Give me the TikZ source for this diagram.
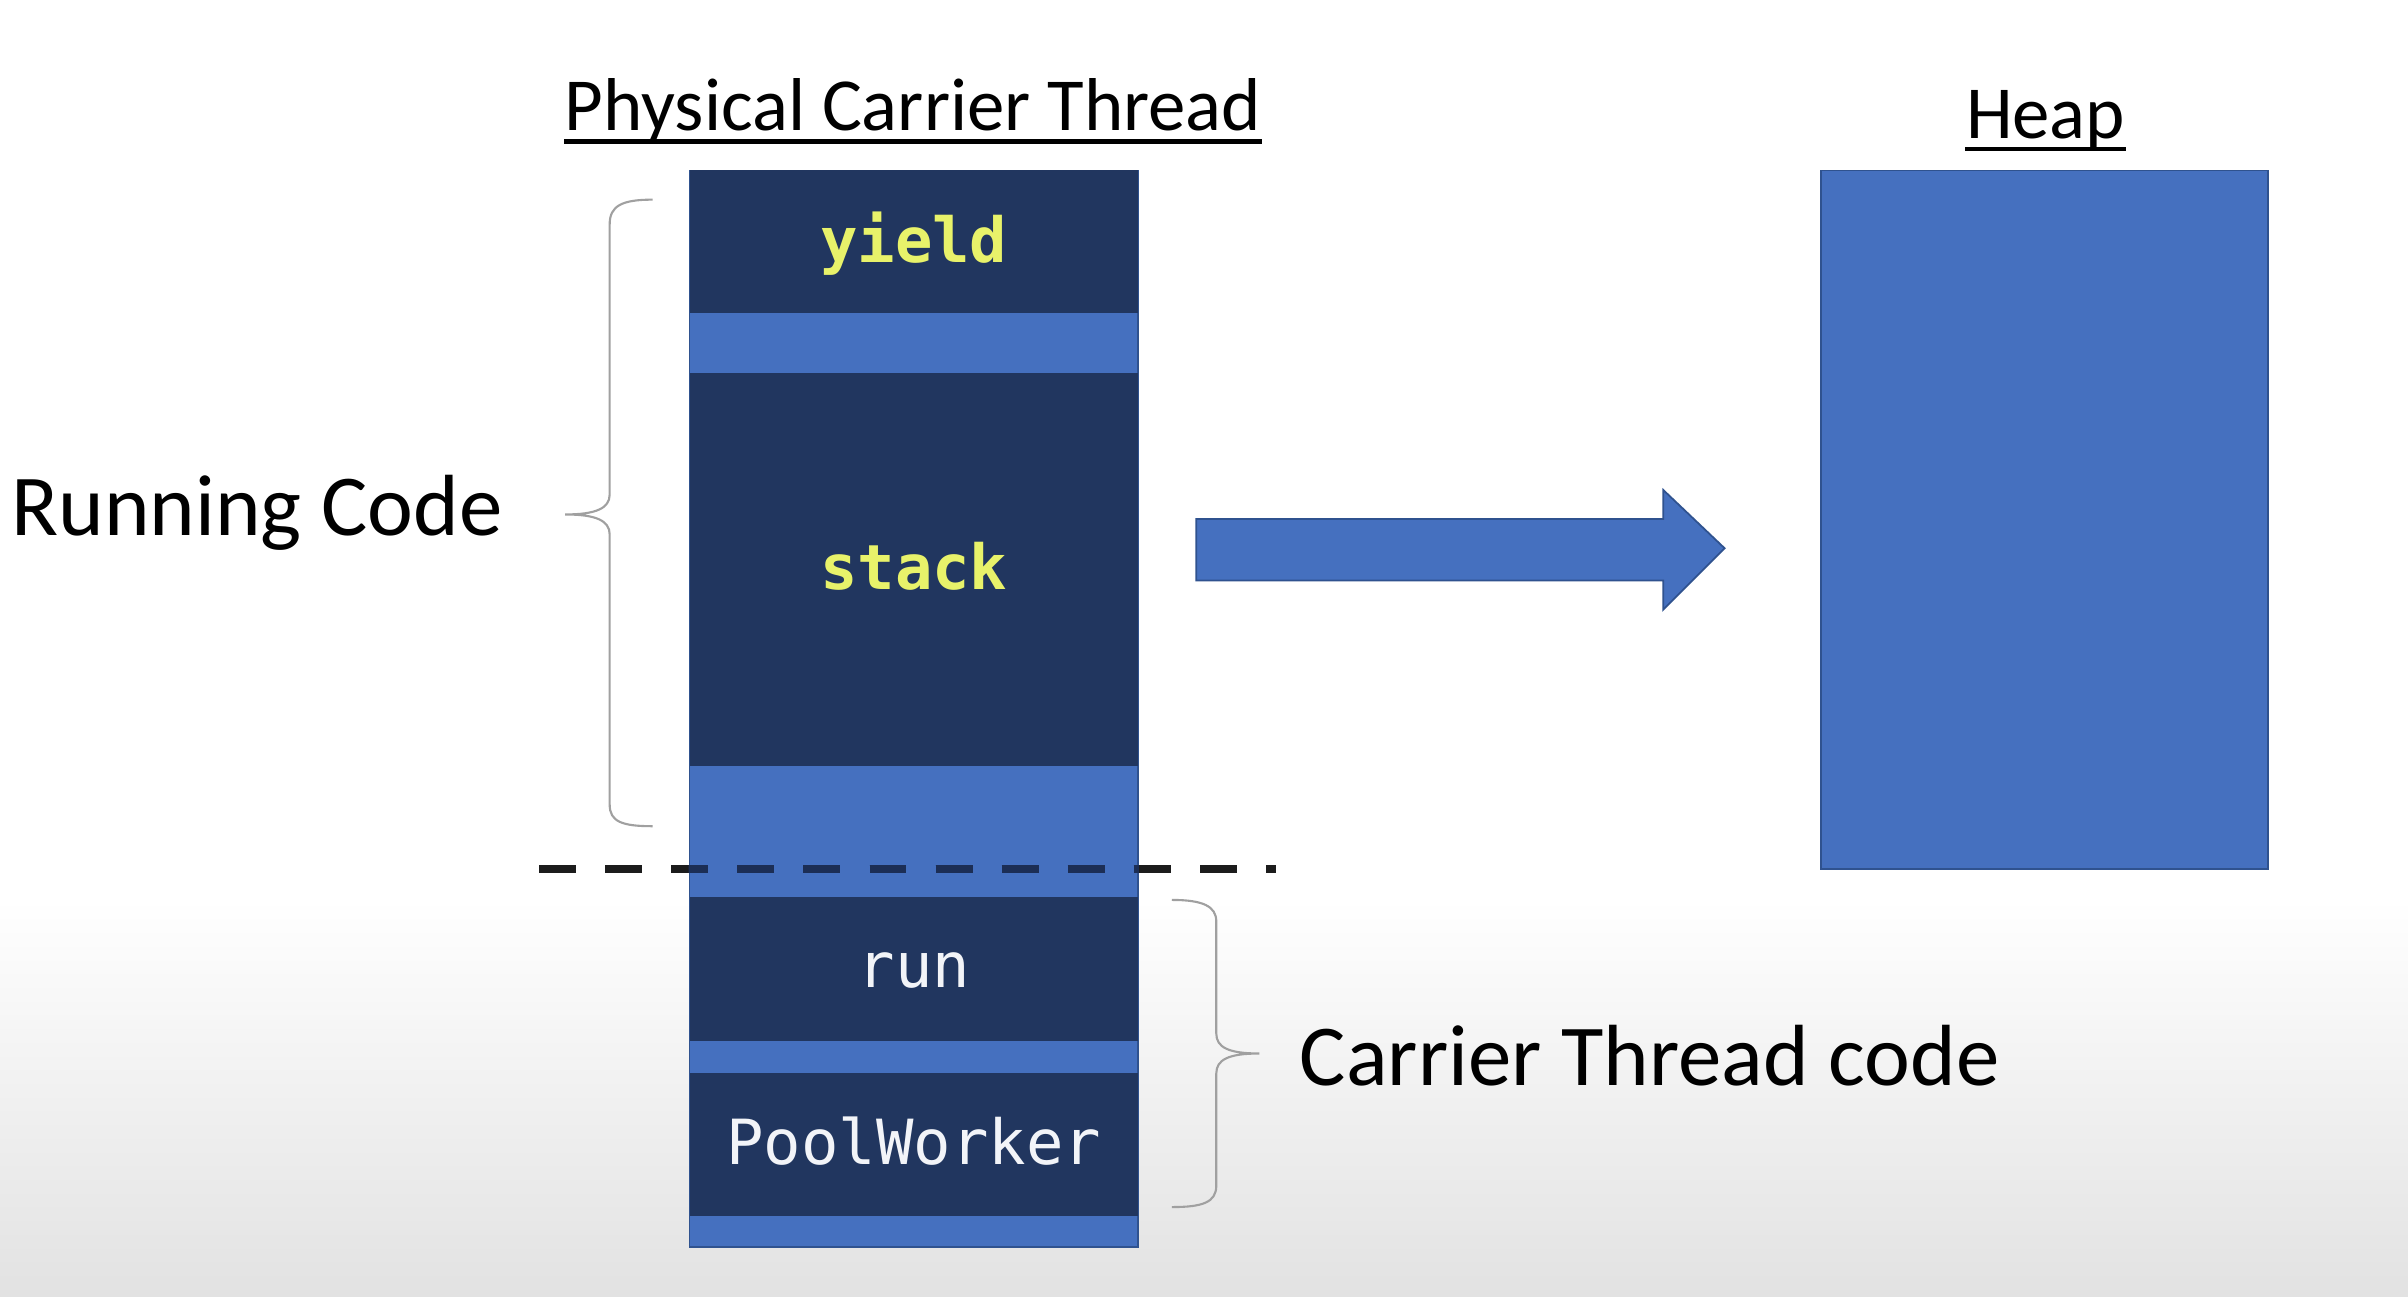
\documentclass[tikz,border=0pt]{standalone}
\usepackage{fontspec}
\setmainfont{Carlito}
\newfontfamily\monof{DejaVu Sans Mono}
\usetikzlibrary{calc}
\definecolor{navy}{HTML}{21365F}
\definecolor{accent}{HTML}{4570BF}
\definecolor{outl}{HTML}{2F528F}
\definecolor{codeyellow}{HTML}{E8F26A}
\definecolor{codewhite}{HTML}{F2F4F8}
\definecolor{bracegray}{HTML}{A0A0A0}
\definecolor{dashc}{HTML}{1C1C1C}
\definecolor{dashnavy}{HTML}{1C2E55}
\definecolor{bottomgray}{HTML}{E2E2E2}
\def\px{0.015357cm}
\tikzset{
  segbox/.style={fill=navy, draw=none, inner sep=0pt, minimum width={292*\px}},
  codetxt/.style={inner sep=0pt, anchor=base, font=\monof\fontsize{17.7}{20}\selectfont},
  titletxt/.style={inner sep=0pt, anchor=base, font=\fontsize{21.3}{24}\selectfont},
  labeltxt/.style={inner sep=0pt, anchor=base west, font=\fontsize{24.7}{28}\selectfont},
  uline/.style={line width=1.3pt, black},
  bracestyle/.style={draw=bracegray, line width=0.6pt},
  dashline/.style={line width=2.4pt, dash pattern=on 10.5pt off 8.3pt},
  blueshape/.style={fill=accent, draw=outl, line width=0.5pt}
}
\begin{document}
\begin{tikzpicture}[x=0.015357cm,y=-0.015357cm]
\useasboundingbox (0,0) rectangle (1568,844);
% background
\fill[white] (0,0) rectangle (1568,844);
\shade[top color=white, bottom color=bottomgray, draw=none] (0,585) rectangle (1568,844);

% titles
\node[titletxt] (title) at (594.5,85) {Physical Carrier Thread};
\draw[uline] ($(title.base west)+(0,7)$) -- ($(title.base east)+(0,7)$);
\node[titletxt] (heaptitle) at (1332,90) {Heap};
\draw[uline] ($(heaptitle.base west)+(0,7)$) -- ($(heaptitle.base east)+(0,7)$);

% column
\node[blueshape, inner sep=0pt, minimum width={292*\px}, minimum height={701*\px}] (column) at (595,461.5) {};
\node[segbox, minimum height={93*\px}] (yieldbox) at (595,157.5) {};
\node[segbox, minimum height={256*\px}] (stackbox) at (595,371) {};
\node[segbox, minimum height={94*\px}] (runbox) at (595,631) {};
\node[segbox, minimum height={93*\px}] (poolbox) at (595,745.5) {};
\node[codetxt, text=codeyellow, font=\monof\bfseries\fontsize{17.7}{20}\selectfont] (yieldtxt) at (595,171) {yield};
\node[codetxt, text=codeyellow, font=\monof\bfseries\fontsize{17.7}{20}\selectfont] (stacktxt) at (595,384) {stack};
\node[codetxt, text=codewhite] (runtxt) at (595,643) {run};
\node[codetxt, text=codewhite] (pooltxt) at (595,758) {PoolWorker};

% heap
\node[blueshape, inner sep=0pt, minimum width={291*\px}, minimum height={455*\px}] (heap) at (1331.5,338.5) {};

% arrow
\fill[accent] (779,338) -- (1083,338) -- (1083,319) -- (1123,357) -- (1083,397) -- (1083,378) -- (779,378) -- cycle;
\draw[outl, line width=0.5pt] (779,338) -- (1083,338) -- (1083,319) -- (1123,357) -- (1083,397) -- (1083,378) -- (779,378) -- cycle;

% dashed separator
\coordinate (dashL) at (351,566);
\coordinate (dashR) at (831,566);
\draw[dashline, dashc] (dashL) -- (dashR);
\begin{scope}
  \clip (column.north west) rectangle (column.south east);
  \draw[dashline, dashnavy] (dashL) -- (dashR);
\end{scope}

% left brace
\draw[bracestyle] (425,130) .. controls (405,130) and (397,134) .. (397,146)
  -- (397,322) .. controls (397,331) and (388,335) .. (368,335)
  .. controls (388,335) and (397,339) .. (397,348)
  -- (397,524) .. controls (397,535) and (405,538) .. (425,538);
% right brace
\draw[bracestyle] (763,586) .. controls (783,586) and (792,590) .. (792,600)
  -- (792,673) .. controls (792,682) and (800,686) .. (820,686)
  .. controls (800,686) and (792,690) .. (792,699)
  -- (792,772) .. controls (792,783) and (783,786) .. (763,786);

% labels
\node[labeltxt] (running) at (7,349) {Running Code};
\node[labeltxt] (carrier) at (846,707) {Carrier Thread code};
\end{tikzpicture}
\end{document}
